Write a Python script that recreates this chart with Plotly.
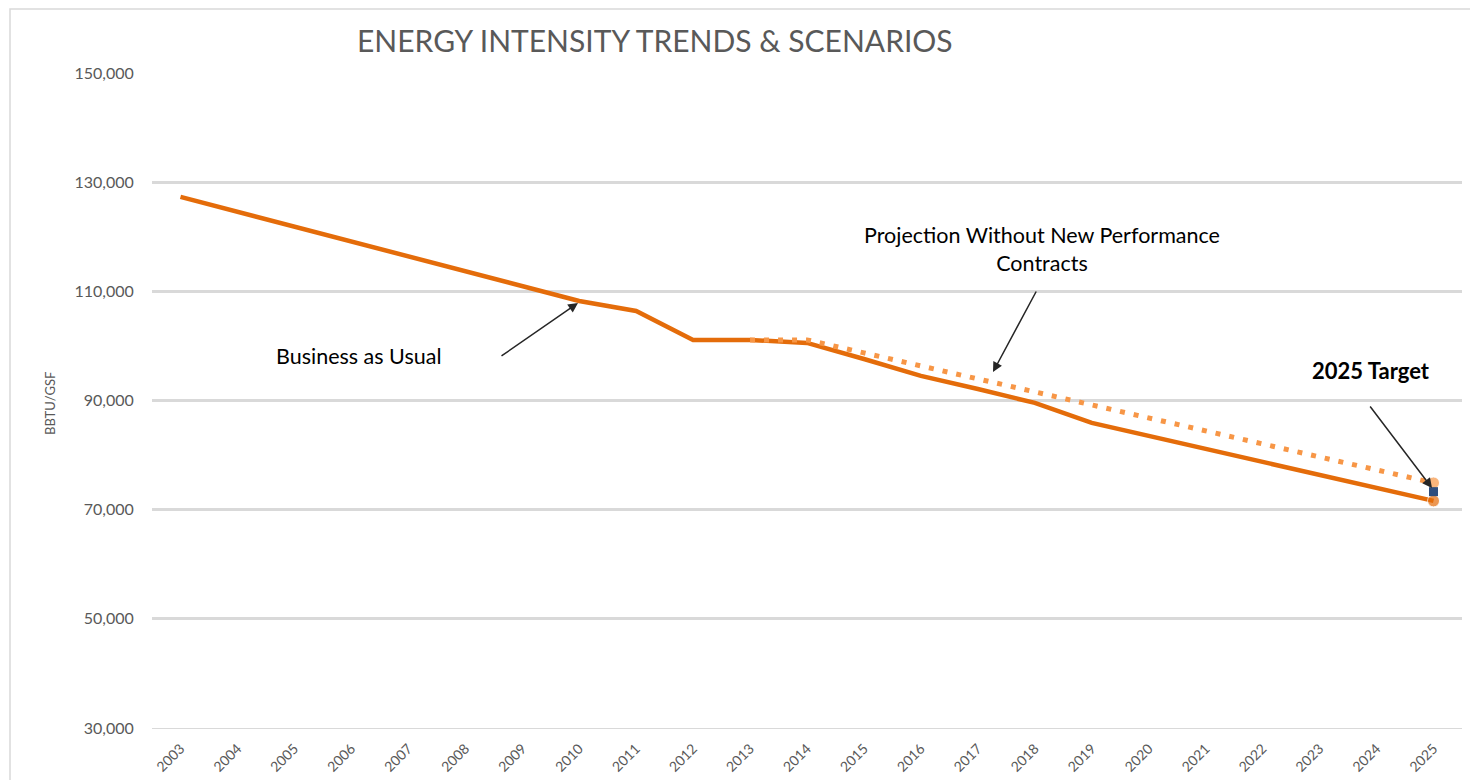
import plotly.graph_objects as go

years = [str(y) for y in range(2003, 2026)]
business_as_usual = [127300, 124580, 121850, 119130, 116400, 113690, 110970, 108240,
                     106400, 101100, 101100, 100550, 97600, 94500, 92100, 89560,
                     85900, 83500, 81100, 78700, 76300, 74000, 71600]
projection_years = [str(y) for y in range(2013, 2026)]
projection = [101100, 101100, 98720, 96340, 93960, 91570, 89190, 86810, 84430,
              82050, 79660, 77280, 74900]
target_year = ["2025"]
target_value = [73300]
y_ticks = [30000, 50000, 70000, 90000, 110000, 130000, 150000]

SOLID = "#E46C0A"
DOTTED = "#F79646"
FONT = "Lato"

# page is rendered with an 8px body margin; work in page pixels
OFF = 8
W, H = 1478, 780
PL, PR, PT, PB = 152, 1462, 73, 728          # plot area in page pixels
L, T = PL - OFF, PT - OFF
R, B = W - (PR - OFF), H - (PB - OFF)
pw, ph = PR - PL, PB - PT

def px(x):
    return (x - PL) / pw

def py(y):
    return (PB - y) / ph

fig = go.Figure()
fig.add_trace(go.Scatter(
    x=years, y=business_as_usual, mode="lines+markers",
    line=dict(color=SOLID, width=4.5),
    marker=dict(size=[0] * (len(years) - 1) + [12], color=SOLID),
    showlegend=False, hoverinfo="x+y"))
fig.add_trace(go.Scatter(
    x=projection_years, y=projection, mode="lines+markers",
    line=dict(color=DOTTED, width=5, dash="5px,9px"),
    marker=dict(size=[0] * (len(projection_years) - 1) + [12], color=DOTTED),
    showlegend=False, hoverinfo="x+y"))
fig.add_trace(go.Scatter(
    x=target_year, y=target_value, mode="markers",
    marker=dict(symbol="square", size=9, color="#2E4E7E"),
    showlegend=False, hoverinfo="x+y"))

annotations = [
    dict(x=px(358), y=py(356), xref="paper", yref="paper", text="Business as Usual",
         showarrow=False, font=dict(family=FONT, size=21.5, color="#000000"),
         xanchor="center", yanchor="middle"),
    dict(x=px(578), y=py(303), xref="paper", yref="paper", text="", showarrow=True,
         ax=-78, ay=54, arrowhead=2, arrowsize=1.3, arrowwidth=1.5, arrowcolor="#262626"),
    dict(x=px(1042), y=py(249), xref="paper", yref="paper",
         text="Projection Without New Performance<br>Contracts",
         showarrow=False, font=dict(family=FONT, size=21.5, color="#000000"),
         xanchor="center", yanchor="middle"),
    dict(x=px(993), y=py(372), xref="paper", yref="paper", text="", showarrow=True,
         ax=44, ay=-82, arrowhead=2, arrowsize=1.3, arrowwidth=1.5, arrowcolor="#262626"),
    dict(x=px(1371), y=py(370), xref="paper", yref="paper", text="<b>2025 Target</b>",
         showarrow=False, font=dict(family=FONT, size=22, color="#000000"),
         xanchor="center", yanchor="middle"),
    dict(x=px(1432), y=py(488), xref="paper", yref="paper", text="", showarrow=True,
         ax=-63, ay=-83, arrowhead=2, arrowsize=1.3, arrowwidth=1.5, arrowcolor="#262626"),
    dict(x=px(50), y=py(404), xref="paper", yref="paper", text="BBTU/GSF",
         showarrow=False, textangle=-90, font=dict(family=FONT, size=13, color="#595959"),
         xanchor="center", yanchor="middle"),
    dict(x=px(655), y=py(40), xref="paper", yref="paper",
         text="ENERGY INTENSITY TRENDS &amp; SCENARIOS",
         showarrow=False, font=dict(family=FONT, size=30, color="#595959"),
         xanchor="center", yanchor="middle"),
]

fig.update_layout(
    width=W, height=H,
    margin=dict(l=L, r=R, t=T, b=B, autoexpand=False),
    paper_bgcolor="white", plot_bgcolor="white",
    font=dict(family=FONT, color="#595959"),
    annotations=annotations,
    shapes=[dict(type="rect", xref="paper", yref="paper",
                 x0=px(10), x1=px(1500), y0=py(800), y1=py(9),
                 line=dict(color="#D9D9D9", width=1.5), layer="below")],
)
fig.update_xaxes(
    type="category", categoryorder="array", categoryarray=years,
    range=[-0.5, len(years) - 0.5], tickangle=-45,
    tickfont=dict(family=FONT, size=14, color="#595959"),
    showgrid=False, showline=True, linecolor="#D9D9D9", linewidth=1,
    ticks="outside", ticklen=6, tickcolor="rgba(0,0,0,0)", zeroline=False)
fig.update_yaxes(
    range=[30000, 150000], tickvals=y_ticks,
    ticktext=[f"{v:,}" for v in y_ticks],
    tickfont=dict(family=FONT, size=16, color="#595959"),
    showgrid=True, gridcolor="#D9D9D9", gridwidth=3,
    ticks="outside", ticklen=14, tickcolor="rgba(0,0,0,0)",
    zeroline=False, showline=False)

fig.write_html("out.html")
